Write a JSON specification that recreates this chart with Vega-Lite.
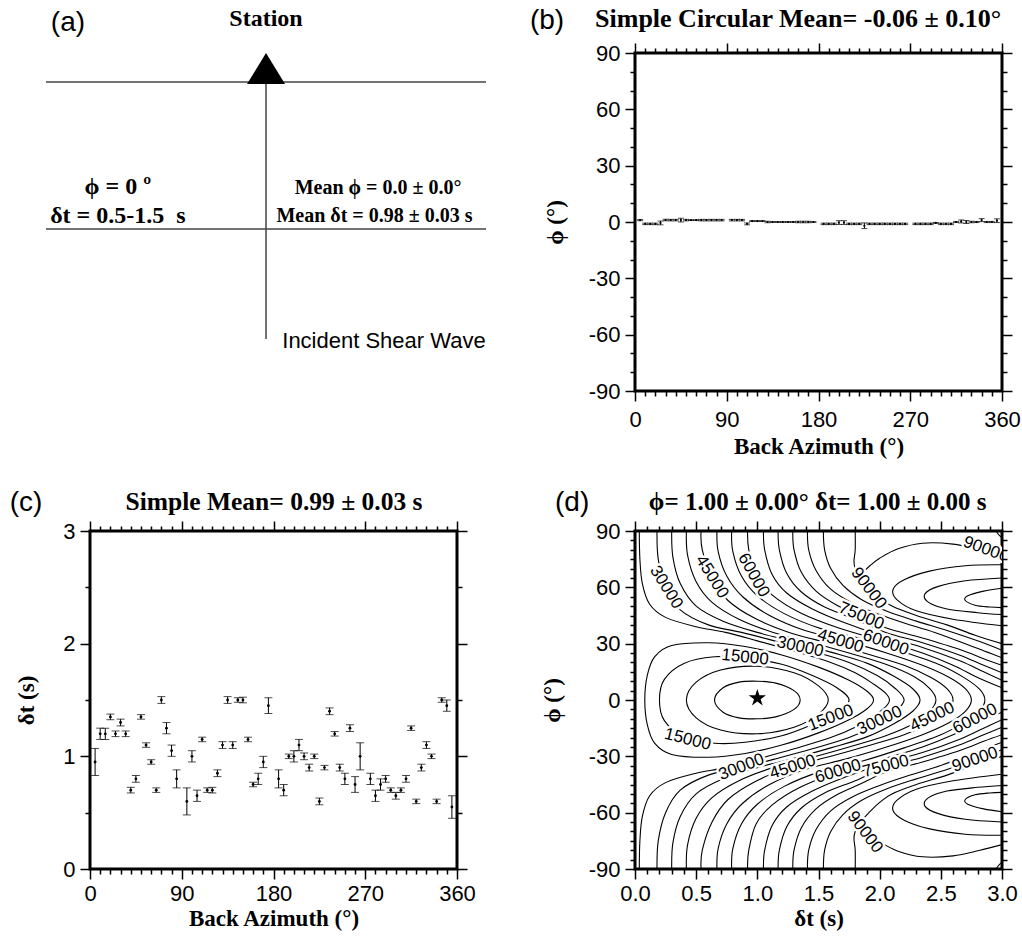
{
"$schema": "https://vega.github.io/schema/vega-lite/v6.json",
"background": "white",
"padding": {"left": 8, "top": 4, "right": 5, "bottom": 5},
"config": {
  "view": {"stroke": "black", "strokeWidth": 3},
  "axis": {"domain": false, "grid": false, "tickColor": "black", "tickWidth": 1.5, "labelFont": "Liberation Sans", "labelFontSize": 22, "labelColor": "black", "labelFlush": false, "labelOverlap": false, "titleFont": "Liberation Serif", "titleFontSize": 23, "titleFontWeight": "bold", "titleColor": "black"}
},
"datasets": {
  "alines": [
    {"x1": -12, "x2": 107.9, "y1": 91.4, "y2": 91.4},
    {"x1": -12, "x2": 107.9, "y1": 47.9, "y2": 47.9},
    {"x1": 47.96, "x2": 47.96, "y1": 91.4, "y2": 15.4}
  ],
  "atri": [{"x": 47.96, "y": 95.4}],
  "atext": [
    {"k": "big", "t": "Station", "x": 47.96, "y": 110.1},
    {"k": "big", "t": "ϕ = 0 º", "x": 7.6, "y": 60.4},
    {"k": "big", "t": "δt = 0.5-1.5 \u00a0s", "x": 7.6, "y": 51.8},
    {"k": "mean", "t": "Mean ϕ = 0.0 ± 0.0°", "x": 78.5, "y": 60},
    {"k": "mean", "t": "Mean δt = 0.98 ± 0.03 s", "x": 77.5, "y": 51.9},
    {"k": "sans", "t": "Incident Shear Wave", "x": 80.1, "y": 14.9},
    {"k": "panel", "t": "(a)", "x": -6, "y": 108.9}
  ],
  "b": [
    {"baz": 5, "phi": 1, "lo": 0.7, "hi": 1.3},
    {"baz": 10, "phi": -1, "lo": -1.4, "hi": -0.6},
    {"baz": 15, "phi": -1, "lo": -1.4, "hi": -0.6},
    {"baz": 20, "phi": -1, "lo": -1.4, "hi": -0.6},
    {"baz": 25, "phi": -0.5, "lo": -1.5, "hi": 0.5},
    {"baz": 30, "phi": 1, "lo": 0.6, "hi": 1.4},
    {"baz": 35, "phi": 1, "lo": 0.6, "hi": 1.4},
    {"baz": 40, "phi": 1, "lo": 0.6, "hi": 1.4},
    {"baz": 45, "phi": 1, "lo": 0, "hi": 2},
    {"baz": 50, "phi": 1, "lo": 0.6, "hi": 1.4},
    {"baz": 55, "phi": 1, "lo": 0.8, "hi": 1.2},
    {"baz": 60, "phi": 1, "lo": 0.8, "hi": 1.2},
    {"baz": 65, "phi": 1, "lo": 0.6, "hi": 1.4},
    {"baz": 70, "phi": 1, "lo": 0.6, "hi": 1.4},
    {"baz": 75, "phi": 1, "lo": 0.6, "hi": 1.4},
    {"baz": 80, "phi": 1, "lo": 0.6, "hi": 1.4},
    {"baz": 85, "phi": 1, "lo": 0.6, "hi": 1.4},
    {"baz": 95, "phi": 1, "lo": 0.6, "hi": 1.4},
    {"baz": 100, "phi": 1, "lo": 0.6, "hi": 1.4},
    {"baz": 105, "phi": 1, "lo": 0.6, "hi": 1.4},
    {"baz": 110, "phi": -1, "lo": -1.5, "hi": -0.5},
    {"baz": 115, "phi": 0.5, "lo": 0.3, "hi": 0.7},
    {"baz": 120, "phi": 0.5, "lo": 0.3, "hi": 0.7},
    {"baz": 125, "phi": 0.5, "lo": 0.3, "hi": 0.7},
    {"baz": 130, "phi": 0, "lo": -0.4, "hi": 0.4},
    {"baz": 135, "phi": 0, "lo": -0.2, "hi": 0.2},
    {"baz": 140, "phi": 0, "lo": -0.2, "hi": 0.2},
    {"baz": 145, "phi": 0, "lo": -0.2, "hi": 0.2},
    {"baz": 150, "phi": 0, "lo": -0.2, "hi": 0.2},
    {"baz": 155, "phi": 0, "lo": -0.2, "hi": 0.2},
    {"baz": 160, "phi": 0, "lo": -0.4, "hi": 0.4},
    {"baz": 165, "phi": 0, "lo": -0.4, "hi": 0.4},
    {"baz": 170, "phi": 0, "lo": -0.4, "hi": 0.4},
    {"baz": 175, "phi": 0, "lo": -0.2, "hi": 0.2},
    {"baz": 185, "phi": -1, "lo": -1.4, "hi": -0.6},
    {"baz": 190, "phi": -1, "lo": -1.4, "hi": -0.6},
    {"baz": 195, "phi": -1, "lo": -1.4, "hi": -0.6},
    {"baz": 200, "phi": -0.3, "lo": -1.3, "hi": 0.7},
    {"baz": 205, "phi": -0.3, "lo": -1.3, "hi": 0.7},
    {"baz": 210, "phi": -1, "lo": -1.4, "hi": -0.6},
    {"baz": 215, "phi": -1, "lo": -1.4, "hi": -0.6},
    {"baz": 220, "phi": -1, "lo": -1.4, "hi": -0.6},
    {"baz": 225, "phi": -2, "lo": -3.5, "hi": -0.5},
    {"baz": 230, "phi": -1, "lo": -1.4, "hi": -0.6},
    {"baz": 235, "phi": -1, "lo": -1.4, "hi": -0.6},
    {"baz": 240, "phi": -1, "lo": -1.4, "hi": -0.6},
    {"baz": 245, "phi": -1, "lo": -1.4, "hi": -0.6},
    {"baz": 250, "phi": -1, "lo": -1.4, "hi": -0.6},
    {"baz": 255, "phi": -1, "lo": -1.4, "hi": -0.6},
    {"baz": 260, "phi": -1, "lo": -1.4, "hi": -0.6},
    {"baz": 265, "phi": -1, "lo": -1.4, "hi": -0.6},
    {"baz": 275, "phi": -1, "lo": -1.4, "hi": -0.6},
    {"baz": 280, "phi": -1, "lo": -1.4, "hi": -0.6},
    {"baz": 285, "phi": -1, "lo": -1.4, "hi": -0.6},
    {"baz": 290, "phi": -1, "lo": -1.4, "hi": -0.6},
    {"baz": 295, "phi": -0.5, "lo": -0.7, "hi": -0.3},
    {"baz": 300, "phi": -1, "lo": -1.4, "hi": -0.6},
    {"baz": 305, "phi": -1, "lo": -1.4, "hi": -0.6},
    {"baz": 310, "phi": -1, "lo": -1.4, "hi": -0.6},
    {"baz": 315, "phi": 0, "lo": -0.3, "hi": 0.3},
    {"baz": 320, "phi": 0.3, "lo": -0.5, "hi": 1.1},
    {"baz": 325, "phi": 0, "lo": -0.8, "hi": 0.8},
    {"baz": 330, "phi": 0, "lo": -0.4, "hi": 0.4},
    {"baz": 335, "phi": 0, "lo": -0.3, "hi": 0.3},
    {"baz": 340, "phi": 1, "lo": 0.2, "hi": 1.8},
    {"baz": 345, "phi": 0, "lo": -0.3, "hi": 0.3},
    {"baz": 350, "phi": 0, "lo": -0.3, "hi": 0.3},
    {"baz": 355, "phi": 0.7, "lo": -0.3, "hi": 1.7}
  ],
  "blab": [
    {"k": "p", "t": "(b)", "x": -86.3, "y": 107},
    {"k": "t", "t": "Simple Circular Mean= -0.06 ± 0.10°", "x": 160, "y": 108}
  ],
  "c": [
    {"baz": 5, "dt": 0.95, "lo": 0.83, "hi": 1.07},
    {"baz": 10, "dt": 1.2, "lo": 1.15, "hi": 1.25},
    {"baz": 15, "dt": 1.2, "lo": 1.15, "hi": 1.25},
    {"baz": 20, "dt": 1.35, "lo": 1.325, "hi": 1.375},
    {"baz": 25, "dt": 1.2, "lo": 1.175, "hi": 1.225},
    {"baz": 30, "dt": 1.3, "lo": 1.27, "hi": 1.33},
    {"baz": 35, "dt": 1.2, "lo": 1.175, "hi": 1.225},
    {"baz": 40, "dt": 0.7, "lo": 0.675, "hi": 0.725},
    {"baz": 45, "dt": 0.8, "lo": 0.77, "hi": 0.83},
    {"baz": 50, "dt": 1.35, "lo": 1.33, "hi": 1.37},
    {"baz": 55, "dt": 1.1, "lo": 1.08, "hi": 1.12},
    {"baz": 60, "dt": 0.95, "lo": 0.93, "hi": 0.97},
    {"baz": 65, "dt": 0.7, "lo": 0.68, "hi": 0.72},
    {"baz": 70, "dt": 1.5, "lo": 1.47, "hi": 1.53},
    {"baz": 75, "dt": 1.25, "lo": 1.2, "hi": 1.3},
    {"baz": 80, "dt": 1.05, "lo": 1.0, "hi": 1.1},
    {"baz": 85, "dt": 0.8, "lo": 0.72, "hi": 0.88},
    {"baz": 95, "dt": 0.6, "lo": 0.48, "hi": 0.72},
    {"baz": 100, "dt": 1.0, "lo": 0.95, "hi": 1.05},
    {"baz": 105, "dt": 0.65, "lo": 0.6, "hi": 0.7},
    {"baz": 110, "dt": 1.15, "lo": 1.13, "hi": 1.17},
    {"baz": 115, "dt": 0.7, "lo": 0.68, "hi": 0.72},
    {"baz": 120, "dt": 0.7, "lo": 0.675, "hi": 0.725},
    {"baz": 125, "dt": 0.85, "lo": 0.82, "hi": 0.88},
    {"baz": 130, "dt": 1.1, "lo": 1.07, "hi": 1.13},
    {"baz": 135, "dt": 1.5, "lo": 1.47, "hi": 1.53},
    {"baz": 140, "dt": 1.1, "lo": 1.07, "hi": 1.13},
    {"baz": 145, "dt": 1.5, "lo": 1.48, "hi": 1.52},
    {"baz": 150, "dt": 1.5, "lo": 1.475, "hi": 1.525},
    {"baz": 155, "dt": 1.15, "lo": 1.13, "hi": 1.17},
    {"baz": 160, "dt": 0.75, "lo": 0.73, "hi": 0.77},
    {"baz": 165, "dt": 0.8, "lo": 0.75, "hi": 0.85},
    {"baz": 170, "dt": 0.95, "lo": 0.9, "hi": 1.0},
    {"baz": 175, "dt": 1.45, "lo": 1.38, "hi": 1.52},
    {"baz": 185, "dt": 0.8, "lo": 0.72, "hi": 0.88},
    {"baz": 190, "dt": 0.7, "lo": 0.65, "hi": 0.75},
    {"baz": 195, "dt": 1.0, "lo": 0.98, "hi": 1.02},
    {"baz": 200, "dt": 1.0, "lo": 0.95, "hi": 1.05},
    {"baz": 205, "dt": 1.1, "lo": 1.05, "hi": 1.15},
    {"baz": 210, "dt": 1.0, "lo": 0.97, "hi": 1.03},
    {"baz": 215, "dt": 0.9, "lo": 0.87, "hi": 0.93},
    {"baz": 220, "dt": 1.0, "lo": 0.98, "hi": 1.02},
    {"baz": 225, "dt": 0.6, "lo": 0.57, "hi": 0.63},
    {"baz": 230, "dt": 0.9, "lo": 0.88, "hi": 0.92},
    {"baz": 235, "dt": 1.4, "lo": 1.37, "hi": 1.43},
    {"baz": 240, "dt": 1.2, "lo": 1.18, "hi": 1.22},
    {"baz": 245, "dt": 0.9, "lo": 0.87, "hi": 0.93},
    {"baz": 250, "dt": 0.8, "lo": 0.75, "hi": 0.85},
    {"baz": 255, "dt": 1.25, "lo": 1.22, "hi": 1.28},
    {"baz": 260, "dt": 0.75, "lo": 0.68, "hi": 0.82},
    {"baz": 265, "dt": 1.0, "lo": 0.88, "hi": 1.12},
    {"baz": 275, "dt": 0.8, "lo": 0.75, "hi": 0.85},
    {"baz": 280, "dt": 0.65, "lo": 0.6, "hi": 0.7},
    {"baz": 285, "dt": 0.75, "lo": 0.7, "hi": 0.8},
    {"baz": 290, "dt": 0.8, "lo": 0.77, "hi": 0.83},
    {"baz": 295, "dt": 0.7, "lo": 0.68, "hi": 0.72},
    {"baz": 300, "dt": 0.65, "lo": 0.62, "hi": 0.68},
    {"baz": 305, "dt": 0.7, "lo": 0.68, "hi": 0.72},
    {"baz": 310, "dt": 0.8, "lo": 0.77, "hi": 0.83},
    {"baz": 315, "dt": 1.25, "lo": 1.23, "hi": 1.27},
    {"baz": 320, "dt": 0.6, "lo": 0.58, "hi": 0.62},
    {"baz": 325, "dt": 0.9, "lo": 0.87, "hi": 0.93},
    {"baz": 330, "dt": 1.1, "lo": 1.07, "hi": 1.13},
    {"baz": 335, "dt": 1.0, "lo": 0.98, "hi": 1.02},
    {"baz": 340, "dt": 0.6, "lo": 0.58, "hi": 0.62},
    {"baz": 345, "dt": 1.5, "lo": 1.48, "hi": 1.52},
    {"baz": 350, "dt": 1.45, "lo": 1.4, "hi": 1.5},
    {"baz": 355, "dt": 0.55, "lo": 0.45, "hi": 0.65}
  ],
  "clab": [
    {"k": "p", "t": "(c)", "x": -62.8, "y": 3.25},
    {"k": "t", "t": "Simple Mean= 0.99 ± 0.03 s", "x": 180.5, "y": 3.256}
  ],
  "dloops": [
    {"c":"L20","o":1,"dt":0.08,"phi":0},{"c":"L20","o":2,"dt":0.1,"phi":13},{"c":"L20","o":3,"dt":0.16,"phi":23},{"c":"L20","o":4,"dt":0.3,"phi":29},{"c":"L20","o":5,"dt":0.6,"phi":30.5},{"c":"L20","o":6,"dt":0.9,"phi":28.5},{"c":"L20","o":7,"dt":1.2,"phi":24},{"c":"L20","o":8,"dt":1.5,"phi":17.5},{"c":"L20","o":9,"dt":1.75,"phi":10.5},{"c":"L20","o":10,"dt":1.9,"phi":4.5},{"c":"L20","o":11,"dt":1.95,"phi":0},{"c":"L20","o":12,"dt":1.9,"phi":-4.5},{"c":"L20","o":13,"dt":1.75,"phi":-10.5},{"c":"L20","o":14,"dt":1.5,"phi":-17.5},{"c":"L20","o":15,"dt":1.2,"phi":-24},{"c":"L20","o":16,"dt":0.9,"phi":-28.5},{"c":"L20","o":17,"dt":0.6,"phi":-30.5},{"c":"L20","o":18,"dt":0.3,"phi":-29},{"c":"L20","o":19,"dt":0.16,"phi":-23},{"c":"L20","o":20,"dt":0.1,"phi":-13},
    {"c":"L15","o":1,"dt":0.2,"phi":0},{"c":"L15","o":2,"dt":0.24,"phi":11},{"c":"L15","o":3,"dt":0.4,"phi":19.5},{"c":"L15","o":4,"dt":0.65,"phi":23},{"c":"L15","o":5,"dt":0.9,"phi":22.5},{"c":"L15","o":6,"dt":1.2,"phi":19},{"c":"L15","o":7,"dt":1.45,"phi":13},{"c":"L15","o":8,"dt":1.65,"phi":6.5},{"c":"L15","o":9,"dt":1.75,"phi":0},{"c":"L15","o":10,"dt":1.65,"phi":-6.5},{"c":"L15","o":11,"dt":1.45,"phi":-13},{"c":"L15","o":12,"dt":1.2,"phi":-19},{"c":"L15","o":13,"dt":0.9,"phi":-22.5},{"c":"L15","o":14,"dt":0.65,"phi":-23},{"c":"L15","o":15,"dt":0.4,"phi":-19.5},{"c":"L15","o":16,"dt":0.24,"phi":-11},
    {"c":"L10","o":1,"dt":0.42,"phi":0},{"c":"L10","o":2,"dt":0.5,"phi":9.5},{"c":"L10","o":3,"dt":0.7,"phi":16},{"c":"L10","o":4,"dt":1.0,"phi":18},{"c":"L10","o":5,"dt":1.3,"phi":14.5},{"c":"L10","o":6,"dt":1.5,"phi":7.5},{"c":"L10","o":7,"dt":1.58,"phi":0},{"c":"L10","o":8,"dt":1.5,"phi":-7.5},{"c":"L10","o":9,"dt":1.3,"phi":-14.5},{"c":"L10","o":10,"dt":1.0,"phi":-18},{"c":"L10","o":11,"dt":0.7,"phi":-16},{"c":"L10","o":12,"dt":0.5,"phi":-9.5},
    {"c":"L5","o":1,"dt":0.65,"phi":0},{"c":"L5","o":2,"dt":0.72,"phi":6.5},{"c":"L5","o":3,"dt":0.85,"phi":9.5},{"c":"L5","o":4,"dt":1.0,"phi":10},{"c":"L5","o":5,"dt":1.15,"phi":9},{"c":"L5","o":6,"dt":1.3,"phi":5},{"c":"L5","o":7,"dt":1.35,"phi":0},{"c":"L5","o":8,"dt":1.3,"phi":-5},{"c":"L5","o":9,"dt":1.15,"phi":-9},{"c":"L5","o":10,"dt":1.0,"phi":-10},{"c":"L5","o":11,"dt":0.85,"phi":-9.5},{"c":"L5","o":12,"dt":0.72,"phi":-6.5}
  ],
  "dopen": [
    {"c":"L25","o":1,"dt":0.035,"phi":90},{"c":"L25","o":2,"dt":0.04,"phi":75},{"c":"L25","o":3,"dt":0.06,"phi":62},{"c":"L25","o":4,"dt":0.12,"phi":51},{"c":"L25","o":5,"dt":0.25,"phi":44},{"c":"L25","o":6,"dt":0.5,"phi":39},{"c":"L25","o":7,"dt":0.74,"phi":36},{"c":"L25","o":8,"dt":1.0,"phi":31.5},{"c":"L25","o":9,"dt":1.3,"phi":26},{"c":"L25","o":10,"dt":1.6,"phi":20},{"c":"L25","o":11,"dt":1.8,"phi":14.5},{"c":"L25","o":12,"dt":1.95,"phi":8.5},{"c":"L25","o":13,"dt":2.05,"phi":3.5},{"c":"L25","o":14,"dt":2.08,"phi":0},{"c":"L25","o":15,"dt":2.05,"phi":-3.5},{"c":"L25","o":16,"dt":1.95,"phi":-8.5},{"c":"L25","o":17,"dt":1.8,"phi":-14.5},{"c":"L25","o":18,"dt":1.6,"phi":-20},{"c":"L25","o":19,"dt":1.3,"phi":-26},{"c":"L25","o":20,"dt":1.0,"phi":-31.5},{"c":"L25","o":21,"dt":0.74,"phi":-36},{"c":"L25","o":22,"dt":0.5,"phi":-39},{"c":"L25","o":23,"dt":0.25,"phi":-44},{"c":"L25","o":24,"dt":0.12,"phi":-51},{"c":"L25","o":25,"dt":0.06,"phi":-62},{"c":"L25","o":26,"dt":0.04,"phi":-75},{"c":"L25","o":27,"dt":0.035,"phi":-90},
    {"c":"L30","o":1,"dt":0.18,"phi":90},{"c":"L30","o":2,"dt":0.19,"phi":75},{"c":"L30","o":3,"dt":0.25,"phi":60},{"c":"L30","o":4,"dt":0.37,"phi":48},{"c":"L30","o":5,"dt":0.6,"phi":40},{"c":"L30","o":6,"dt":0.87,"phi":36},{"c":"L30","o":7,"dt":1.14,"phi":31.5},{"c":"L30","o":8,"dt":1.45,"phi":26},{"c":"L30","o":9,"dt":1.75,"phi":20},{"c":"L30","o":10,"dt":1.98,"phi":13},{"c":"L30","o":11,"dt":2.13,"phi":6},{"c":"L30","o":12,"dt":2.2,"phi":0},{"c":"L30","o":13,"dt":2.13,"phi":-6},{"c":"L30","o":14,"dt":1.98,"phi":-13},{"c":"L30","o":15,"dt":1.75,"phi":-20},{"c":"L30","o":16,"dt":1.45,"phi":-26},{"c":"L30","o":17,"dt":1.14,"phi":-31.5},{"c":"L30","o":18,"dt":0.87,"phi":-36},{"c":"L30","o":19,"dt":0.6,"phi":-40},{"c":"L30","o":20,"dt":0.37,"phi":-48},{"c":"L30","o":21,"dt":0.25,"phi":-60},{"c":"L30","o":22,"dt":0.19,"phi":-75},{"c":"L30","o":23,"dt":0.18,"phi":-90},
    {"c":"L35","o":1,"dt":0.3,"phi":90},{"c":"L35","o":2,"dt":0.31,"phi":76},{"c":"L35","o":3,"dt":0.37,"phi":62},{"c":"L35","o":4,"dt":0.5,"phi":50},{"c":"L35","o":5,"dt":0.72,"phi":42},{"c":"L35","o":6,"dt":1.0,"phi":36},{"c":"L35","o":7,"dt":1.3,"phi":31},{"c":"L35","o":8,"dt":1.6,"phi":25.5},{"c":"L35","o":9,"dt":1.9,"phi":19.5},{"c":"L35","o":10,"dt":2.12,"phi":12.5},{"c":"L35","o":11,"dt":2.27,"phi":6},{"c":"L35","o":12,"dt":2.33,"phi":0},{"c":"L35","o":13,"dt":2.27,"phi":-6},{"c":"L35","o":14,"dt":2.12,"phi":-12.5},{"c":"L35","o":15,"dt":1.9,"phi":-19.5},{"c":"L35","o":16,"dt":1.6,"phi":-25.5},{"c":"L35","o":17,"dt":1.3,"phi":-31},{"c":"L35","o":18,"dt":1.0,"phi":-36},{"c":"L35","o":19,"dt":0.72,"phi":-42},{"c":"L35","o":20,"dt":0.5,"phi":-50},{"c":"L35","o":21,"dt":0.37,"phi":-62},{"c":"L35","o":22,"dt":0.31,"phi":-76},{"c":"L35","o":23,"dt":0.3,"phi":-90},
    {"c":"L40","o":1,"dt":0.42,"phi":90},{"c":"L40","o":2,"dt":0.43,"phi":77},{"c":"L40","o":3,"dt":0.5,"phi":63},{"c":"L40","o":4,"dt":0.63,"phi":52},{"c":"L40","o":5,"dt":0.85,"phi":43},{"c":"L40","o":6,"dt":1.13,"phi":36},{"c":"L40","o":7,"dt":1.45,"phi":30.5},{"c":"L40","o":8,"dt":1.75,"phi":25},{"c":"L40","o":9,"dt":2.05,"phi":19},{"c":"L40","o":10,"dt":2.28,"phi":12.5},{"c":"L40","o":11,"dt":2.41,"phi":6},{"c":"L40","o":12,"dt":2.46,"phi":0},{"c":"L40","o":13,"dt":2.41,"phi":-6},{"c":"L40","o":14,"dt":2.28,"phi":-12.5},{"c":"L40","o":15,"dt":2.05,"phi":-19},{"c":"L40","o":16,"dt":1.75,"phi":-25},{"c":"L40","o":17,"dt":1.45,"phi":-30.5},{"c":"L40","o":18,"dt":1.13,"phi":-36},{"c":"L40","o":19,"dt":0.85,"phi":-43},{"c":"L40","o":20,"dt":0.63,"phi":-52},{"c":"L40","o":21,"dt":0.5,"phi":-63},{"c":"L40","o":22,"dt":0.43,"phi":-77},{"c":"L40","o":23,"dt":0.42,"phi":-90},
    {"c":"L45","o":1,"dt":0.54,"phi":90},{"c":"L45","o":2,"dt":0.55,"phi":80},{"c":"L45","o":3,"dt":0.63,"phi":65},{"c":"L45","o":4,"dt":0.76,"phi":53},{"c":"L45","o":5,"dt":0.98,"phi":43.5},{"c":"L45","o":6,"dt":1.26,"phi":36},{"c":"L45","o":7,"dt":1.6,"phi":30},{"c":"L45","o":8,"dt":1.9,"phi":24.5},{"c":"L45","o":9,"dt":2.2,"phi":18.5},{"c":"L45","o":10,"dt":2.42,"phi":12},{"c":"L45","o":11,"dt":2.55,"phi":6},{"c":"L45","o":12,"dt":2.6,"phi":0},{"c":"L45","o":13,"dt":2.55,"phi":-6},{"c":"L45","o":14,"dt":2.42,"phi":-12},{"c":"L45","o":15,"dt":2.2,"phi":-18.5},{"c":"L45","o":16,"dt":1.9,"phi":-24.5},{"c":"L45","o":17,"dt":1.6,"phi":-30},{"c":"L45","o":18,"dt":1.26,"phi":-36},{"c":"L45","o":19,"dt":0.98,"phi":-43.5},{"c":"L45","o":20,"dt":0.76,"phi":-53},{"c":"L45","o":21,"dt":0.63,"phi":-65},{"c":"L45","o":22,"dt":0.55,"phi":-80},{"c":"L45","o":23,"dt":0.54,"phi":-90},
    {"c":"L50","o":1,"dt":0.67,"phi":90},{"c":"L50","o":2,"dt":0.68,"phi":79},{"c":"L50","o":3,"dt":0.75,"phi":66},{"c":"L50","o":4,"dt":0.88,"phi":55},{"c":"L50","o":5,"dt":1.1,"phi":45},{"c":"L50","o":6,"dt":1.39,"phi":37},{"c":"L50","o":7,"dt":1.72,"phi":31.5},{"c":"L50","o":8,"dt":2.05,"phi":25.2},{"c":"L50","o":9,"dt":2.35,"phi":18.5},{"c":"L50","o":10,"dt":2.57,"phi":12},{"c":"L50","o":11,"dt":2.7,"phi":6},{"c":"L50","o":12,"dt":2.75,"phi":0},{"c":"L50","o":13,"dt":2.7,"phi":-6},{"c":"L50","o":14,"dt":2.57,"phi":-12},{"c":"L50","o":15,"dt":2.35,"phi":-18.5},{"c":"L50","o":16,"dt":2.05,"phi":-25.2},{"c":"L50","o":17,"dt":1.72,"phi":-31.5},{"c":"L50","o":18,"dt":1.39,"phi":-37},{"c":"L50","o":19,"dt":1.1,"phi":-45},{"c":"L50","o":20,"dt":0.88,"phi":-55},{"c":"L50","o":21,"dt":0.75,"phi":-66},{"c":"L50","o":22,"dt":0.68,"phi":-79},{"c":"L50","o":23,"dt":0.67,"phi":-90},
    {"c":"L55","o":1,"dt":0.79,"phi":90},{"c":"L55","o":2,"dt":0.8,"phi":79},{"c":"L55","o":3,"dt":0.87,"phi":66},{"c":"L55","o":4,"dt":1.0,"phi":55.5},{"c":"L55","o":5,"dt":1.22,"phi":46},{"c":"L55","o":6,"dt":1.52,"phi":38},{"c":"L55","o":7,"dt":1.86,"phi":32.5},{"c":"L55","o":8,"dt":2.2,"phi":25.5},{"c":"L55","o":9,"dt":2.5,"phi":18.5},{"c":"L55","o":10,"dt":2.7,"phi":11.5},{"c":"L55","o":11,"dt":2.82,"phi":5.5},{"c":"L55","o":12,"dt":2.86,"phi":0},{"c":"L55","o":13,"dt":2.82,"phi":-5.5},{"c":"L55","o":14,"dt":2.7,"phi":-11.5},{"c":"L55","o":15,"dt":2.5,"phi":-18.5},{"c":"L55","o":16,"dt":2.2,"phi":-25.5},{"c":"L55","o":17,"dt":1.86,"phi":-32.5},{"c":"L55","o":18,"dt":1.52,"phi":-38},{"c":"L55","o":19,"dt":1.22,"phi":-46},{"c":"L55","o":20,"dt":1.0,"phi":-55.5},{"c":"L55","o":21,"dt":0.87,"phi":-66},{"c":"L55","o":22,"dt":0.8,"phi":-79},{"c":"L55","o":23,"dt":0.79,"phi":-90},
    {"c":"L60","o":1,"dt":0.92,"phi":90},{"c":"L60","o":2,"dt":0.93,"phi":80},{"c":"L60","o":3,"dt":0.99,"phi":66},{"c":"L60","o":4,"dt":1.12,"phi":56},{"c":"L60","o":5,"dt":1.35,"phi":46.5},{"c":"L60","o":6,"dt":1.66,"phi":38.5},{"c":"L60","o":7,"dt":2.05,"phi":31},{"c":"L60","o":8,"dt":2.35,"phi":25},{"c":"L60","o":9,"dt":2.6,"phi":18.5},{"c":"L60","o":10,"dt":2.8,"phi":12},{"c":"L60","o":11,"dt":3.0,"phi":6.5},
    {"c":"L60m","o":1,"dt":0.92,"phi":-90},{"c":"L60m","o":2,"dt":0.93,"phi":-80},{"c":"L60m","o":3,"dt":0.99,"phi":-66},{"c":"L60m","o":4,"dt":1.12,"phi":-56},{"c":"L60m","o":5,"dt":1.35,"phi":-46.5},{"c":"L60m","o":6,"dt":1.66,"phi":-38.5},{"c":"L60m","o":7,"dt":2.05,"phi":-31},{"c":"L60m","o":8,"dt":2.35,"phi":-25},{"c":"L60m","o":9,"dt":2.6,"phi":-18.5},{"c":"L60m","o":10,"dt":2.8,"phi":-12},{"c":"L60m","o":11,"dt":3.0,"phi":-6.5},
    {"c":"L65","o":1,"dt":1.05,"phi":90},{"c":"L65","o":2,"dt":1.06,"phi":80},{"c":"L65","o":3,"dt":1.12,"phi":67},{"c":"L65","o":4,"dt":1.24,"phi":57},{"c":"L65","o":5,"dt":1.45,"phi":48.5},{"c":"L65","o":6,"dt":1.72,"phi":41},{"c":"L65","o":7,"dt":2.05,"phi":33.5},{"c":"L65","o":8,"dt":2.35,"phi":28},{"c":"L65","o":9,"dt":2.65,"phi":21},{"c":"L65","o":10,"dt":2.85,"phi":15},{"c":"L65","o":11,"dt":3.0,"phi":10.5},
    {"c":"L65m","o":1,"dt":1.05,"phi":-90},{"c":"L65m","o":2,"dt":1.06,"phi":-80},{"c":"L65m","o":3,"dt":1.12,"phi":-67},{"c":"L65m","o":4,"dt":1.24,"phi":-57},{"c":"L65m","o":5,"dt":1.45,"phi":-48.5},{"c":"L65m","o":6,"dt":1.72,"phi":-41},{"c":"L65m","o":7,"dt":2.05,"phi":-33.5},{"c":"L65m","o":8,"dt":2.35,"phi":-28},{"c":"L65m","o":9,"dt":2.65,"phi":-21},{"c":"L65m","o":10,"dt":2.85,"phi":-15},{"c":"L65m","o":11,"dt":3.0,"phi":-10.5},
    {"c":"L70","o":1,"dt":1.17,"phi":90},{"c":"L70","o":2,"dt":1.18,"phi":80},{"c":"L70","o":3,"dt":1.24,"phi":67.5},{"c":"L70","o":4,"dt":1.36,"phi":57.5},{"c":"L70","o":5,"dt":1.55,"phi":49.5},{"c":"L70","o":6,"dt":1.8,"phi":43},{"c":"L70","o":7,"dt":2.05,"phi":36},{"c":"L70","o":8,"dt":2.35,"phi":30.5},{"c":"L70","o":9,"dt":2.65,"phi":24},{"c":"L70","o":10,"dt":2.85,"phi":18.5},{"c":"L70","o":11,"dt":3.0,"phi":14.5},
    {"c":"L70m","o":1,"dt":1.17,"phi":-90},{"c":"L70m","o":2,"dt":1.18,"phi":-80},{"c":"L70m","o":3,"dt":1.24,"phi":-67.5},{"c":"L70m","o":4,"dt":1.36,"phi":-57.5},{"c":"L70m","o":5,"dt":1.55,"phi":-49.5},{"c":"L70m","o":6,"dt":1.8,"phi":-43},{"c":"L70m","o":7,"dt":2.05,"phi":-36},{"c":"L70m","o":8,"dt":2.35,"phi":-30.5},{"c":"L70m","o":9,"dt":2.65,"phi":-24},{"c":"L70m","o":10,"dt":2.85,"phi":-18.5},{"c":"L70m","o":11,"dt":3.0,"phi":-14.5},
    {"c":"L75","o":1,"dt":1.29,"phi":90},{"c":"L75","o":2,"dt":1.3,"phi":80},{"c":"L75","o":3,"dt":1.36,"phi":68},{"c":"L75","o":4,"dt":1.48,"phi":58},{"c":"L75","o":5,"dt":1.65,"phi":50.5},{"c":"L75","o":6,"dt":1.85,"phi":44.5},{"c":"L75","o":7,"dt":2.05,"phi":38.5},{"c":"L75","o":8,"dt":2.35,"phi":33},{"c":"L75","o":9,"dt":2.65,"phi":27},{"c":"L75","o":10,"dt":2.85,"phi":22},{"c":"L75","o":11,"dt":3.0,"phi":18.5},
    {"c":"L75m","o":1,"dt":1.29,"phi":-90},{"c":"L75m","o":2,"dt":1.3,"phi":-80},{"c":"L75m","o":3,"dt":1.36,"phi":-68},{"c":"L75m","o":4,"dt":1.48,"phi":-58},{"c":"L75m","o":5,"dt":1.65,"phi":-50.5},{"c":"L75m","o":6,"dt":1.85,"phi":-44.5},{"c":"L75m","o":7,"dt":2.05,"phi":-38.5},{"c":"L75m","o":8,"dt":2.35,"phi":-33},{"c":"L75m","o":9,"dt":2.65,"phi":-27},{"c":"L75m","o":10,"dt":2.85,"phi":-22},{"c":"L75m","o":11,"dt":3.0,"phi":-18.5},
    {"c":"L80","o":1,"dt":1.41,"phi":90},{"c":"L80","o":2,"dt":1.42,"phi":80},{"c":"L80","o":3,"dt":1.48,"phi":69},{"c":"L80","o":4,"dt":1.6,"phi":59},{"c":"L80","o":5,"dt":1.78,"phi":51.5},{"c":"L80","o":6,"dt":2.0,"phi":45.5},{"c":"L80","o":7,"dt":2.2,"phi":41},{"c":"L80","o":8,"dt":2.45,"phi":36},{"c":"L80","o":9,"dt":2.7,"phi":30},{"c":"L80","o":10,"dt":2.88,"phi":25.5},{"c":"L80","o":11,"dt":3.0,"phi":22.5},
    {"c":"L80m","o":1,"dt":1.41,"phi":-90},{"c":"L80m","o":2,"dt":1.42,"phi":-80},{"c":"L80m","o":3,"dt":1.48,"phi":-69},{"c":"L80m","o":4,"dt":1.6,"phi":-59},{"c":"L80m","o":5,"dt":1.78,"phi":-51.5},{"c":"L80m","o":6,"dt":2.0,"phi":-45.5},{"c":"L80m","o":7,"dt":2.2,"phi":-41},{"c":"L80m","o":8,"dt":2.45,"phi":-36},{"c":"L80m","o":9,"dt":2.7,"phi":-30},{"c":"L80m","o":10,"dt":2.88,"phi":-25.5},{"c":"L80m","o":11,"dt":3.0,"phi":-22.5},
    {"c":"L85","o":1,"dt":1.54,"phi":90},{"c":"L85","o":2,"dt":1.55,"phi":80},{"c":"L85","o":3,"dt":1.6,"phi":70},{"c":"L85","o":4,"dt":1.7,"phi":61},{"c":"L85","o":5,"dt":1.85,"phi":53.5},{"c":"L85","o":6,"dt":2.05,"phi":47.5},{"c":"L85","o":7,"dt":2.3,"phi":42},{"c":"L85","o":8,"dt":2.55,"phi":37},{"c":"L85","o":9,"dt":2.8,"phi":31.5},{"c":"L85","o":10,"dt":3.0,"phi":26.5},
    {"c":"L85m","o":1,"dt":1.54,"phi":-90},{"c":"L85m","o":2,"dt":1.55,"phi":-80},{"c":"L85m","o":3,"dt":1.6,"phi":-70},{"c":"L85m","o":4,"dt":1.7,"phi":-61},{"c":"L85m","o":5,"dt":1.85,"phi":-53.5},{"c":"L85m","o":6,"dt":2.05,"phi":-47.5},{"c":"L85m","o":7,"dt":2.3,"phi":-42},{"c":"L85m","o":8,"dt":2.55,"phi":-37},{"c":"L85m","o":9,"dt":2.8,"phi":-31.5},{"c":"L85m","o":10,"dt":3.0,"phi":-26.5},
    {"c":"Y","o":1,"dt":1.8,"phi":90},{"c":"Y","o":2,"dt":1.8,"phi":80},{"c":"Y","o":3,"dt":1.79,"phi":74},{"c":"Y","o":4,"dt":1.8,"phi":70},{"c":"Y","o":5,"dt":1.85,"phi":64.5},{"c":"Y","o":6,"dt":1.92,"phi":59.5},{"c":"Y","o":7,"dt":2.0,"phi":54.5},{"c":"Y","o":8,"dt":2.1,"phi":50},{"c":"Y","o":9,"dt":2.3,"phi":45},{"c":"Y","o":10,"dt":2.55,"phi":40},{"c":"Y","o":11,"dt":2.78,"phi":34.5},{"c":"Y","o":12,"dt":3.0,"phi":30},
    {"c":"Ym","o":1,"dt":1.8,"phi":-90},{"c":"Ym","o":2,"dt":1.8,"phi":-80},{"c":"Ym","o":3,"dt":1.79,"phi":-74},{"c":"Ym","o":4,"dt":1.8,"phi":-70},{"c":"Ym","o":5,"dt":1.85,"phi":-64.5},{"c":"Ym","o":6,"dt":1.92,"phi":-59.5},{"c":"Ym","o":7,"dt":2.0,"phi":-54.5},{"c":"Ym","o":8,"dt":2.1,"phi":-50},{"c":"Ym","o":9,"dt":2.3,"phi":-45},{"c":"Ym","o":10,"dt":2.55,"phi":-40},{"c":"Ym","o":11,"dt":2.78,"phi":-34.5},{"c":"Ym","o":12,"dt":3.0,"phi":-30},
    {"c":"H","o":1,"dt":3.0,"phi":77},{"c":"H","o":2,"dt":2.82,"phi":80},{"c":"H","o":3,"dt":2.6,"phi":83},{"c":"H","o":4,"dt":2.35,"phi":83.5},{"c":"H","o":5,"dt":2.15,"phi":80.5},{"c":"H","o":6,"dt":2.0,"phi":75.5},{"c":"H","o":7,"dt":1.92,"phi":71.5},{"c":"H","o":8,"dt":1.88,"phi":69},
    {"c":"Hm","o":1,"dt":3.0,"phi":-77},{"c":"Hm","o":2,"dt":2.82,"phi":-80},{"c":"Hm","o":3,"dt":2.6,"phi":-83},{"c":"Hm","o":4,"dt":2.35,"phi":-83.5},{"c":"Hm","o":5,"dt":2.15,"phi":-80.5},{"c":"Hm","o":6,"dt":2.0,"phi":-75.5},{"c":"Hm","o":7,"dt":1.92,"phi":-71.5},{"c":"Hm","o":8,"dt":1.88,"phi":-69},
    {"c":"U95","o":1,"dt":3.0,"phi":72},{"c":"U95","o":2,"dt":2.7,"phi":71.5},{"c":"U95","o":3,"dt":2.4,"phi":68.5},{"c":"U95","o":4,"dt":2.2,"phi":64},{"c":"U95","o":5,"dt":2.11,"phi":59},{"c":"U95","o":6,"dt":2.14,"phi":53.5},{"c":"U95","o":7,"dt":2.3,"phi":47.5},{"c":"U95","o":8,"dt":2.6,"phi":43},{"c":"U95","o":9,"dt":3.0,"phi":39.5},
    {"c":"U95m","o":1,"dt":3.0,"phi":-72},{"c":"U95m","o":2,"dt":2.7,"phi":-71.5},{"c":"U95m","o":3,"dt":2.4,"phi":-68.5},{"c":"U95m","o":4,"dt":2.2,"phi":-64},{"c":"U95m","o":5,"dt":2.11,"phi":-59},{"c":"U95m","o":6,"dt":2.14,"phi":-53.5},{"c":"U95m","o":7,"dt":2.3,"phi":-47.5},{"c":"U95m","o":8,"dt":2.6,"phi":-43},{"c":"U95m","o":9,"dt":3.0,"phi":-39.5},
    {"c":"U100","o":1,"dt":3.0,"phi":65},{"c":"U100","o":2,"dt":2.7,"phi":63.5},{"c":"U100","o":3,"dt":2.48,"phi":60.5},{"c":"U100","o":4,"dt":2.37,"phi":56.5},{"c":"U100","o":5,"dt":2.4,"phi":52},{"c":"U100","o":6,"dt":2.55,"phi":48.5},{"c":"U100","o":7,"dt":2.8,"phi":46.5},{"c":"U100","o":8,"dt":3.0,"phi":45.5},
    {"c":"U100m","o":1,"dt":3.0,"phi":-65},{"c":"U100m","o":2,"dt":2.7,"phi":-63.5},{"c":"U100m","o":3,"dt":2.48,"phi":-60.5},{"c":"U100m","o":4,"dt":2.37,"phi":-56.5},{"c":"U100m","o":5,"dt":2.4,"phi":-52},{"c":"U100m","o":6,"dt":2.55,"phi":-48.5},{"c":"U100m","o":7,"dt":2.8,"phi":-46.5},{"c":"U100m","o":8,"dt":3.0,"phi":-45.5},
    {"c":"U105","o":1,"dt":3.0,"phi":59.5},{"c":"U105","o":2,"dt":2.85,"phi":58},{"c":"U105","o":3,"dt":2.72,"phi":55.5},{"c":"U105","o":4,"dt":2.7,"phi":53},{"c":"U105","o":5,"dt":2.78,"phi":50.5},{"c":"U105","o":6,"dt":2.9,"phi":49.5},{"c":"U105","o":7,"dt":3.0,"phi":49.2},
    {"c":"U105m","o":1,"dt":3.0,"phi":-59.5},{"c":"U105m","o":2,"dt":2.85,"phi":-58},{"c":"U105m","o":3,"dt":2.72,"phi":-55.5},{"c":"U105m","o":4,"dt":2.7,"phi":-53},{"c":"U105m","o":5,"dt":2.78,"phi":-50.5},{"c":"U105m","o":6,"dt":2.9,"phi":-49.5},{"c":"U105m","o":7,"dt":3.0,"phi":-49.2},
    {"c":"K","o":1,"dt":2.95,"phi":90},{"c":"K","o":2,"dt":2.98,"phi":87.5},{"c":"K","o":3,"dt":3.0,"phi":86.5},
    {"c":"Km","o":1,"dt":2.95,"phi":-90},{"c":"Km","o":2,"dt":2.98,"phi":-87.5},{"c":"Km","o":3,"dt":3.0,"phi":-86.5}
  ],
  "dlab": [
    {"t":"30000","dt":0.255,"phi":60,"a":58},
    {"t":"45000","dt":0.63,"phi":65.6,"a":58},
    {"t":"60000","dt":0.97,"phi":66.5,"a":61},
    {"t":"15000","dt":0.9,"phi":22.8,"a":6},
    {"t":"30000","dt":1.35,"phi":28.3,"a":12},
    {"t":"45000","dt":1.68,"phi":31.4,"a":17},
    {"t":"60000","dt":2.05,"phi":30.5,"a":20},
    {"t":"75000","dt":1.85,"phi":44.7,"a":23},
    {"t":"90000","dt":1.91,"phi":59.5,"a":53},
    {"t":"90000","dt":2.87,"phi":80.2,"a":20},
    {"t":"15000","dt":0.43,"phi":-21,"a":14},
    {"t":"15000","dt":1.6,"phi":-9.5,"a":-21},
    {"t":"30000","dt":2.0,"phi":-10.9,"a":-25},
    {"t":"45000","dt":2.43,"phi":-9,"a":-26},
    {"t":"60000","dt":2.78,"phi":-10,"a":-27},
    {"t":"30000","dt":0.87,"phi":-35.7,"a":-21},
    {"t":"45000","dt":1.29,"phi":-35.7,"a":-18},
    {"t":"60000","dt":1.66,"phi":-38,"a":-17},
    {"t":"75000","dt":2.05,"phi":-35.3,"a":-15},
    {"t":"90000","dt":2.78,"phi":-31.7,"a":-19},
    {"t":"90000","dt":1.88,"phi":-70.4,"a":53}
  ],
  "dstar": [{"dt": 1.0, "phi": 1.0}],
  "dtxt": [
    {"k": "p", "t": "(d)", "x": -0.514, "y": 104.8},
    {"k": "t", "t": "ϕ= 1.00 ± 0.00° δt= 1.00 ± 0.00 s", "x": 1.493, "y": 105.3}
  ]
},
"concat": [
      {
        "width": 367, "height": 338,
        "view": {"stroke": null},
        "layer": [
          {"data": {"name": "alines"}, "mark": {"type": "rule", "color": "#444444", "strokeWidth": 1.5},
           "encoding": {
             "x": {"field": "x1", "type": "quantitative", "scale": {"domain": [0, 100], "nice": false, "zero": false}, "axis": null},
             "x2": {"field": "x2"},
             "y": {"field": "y1", "type": "quantitative", "scale": {"domain": [0, 100], "nice": false, "zero": false}, "axis": null},
             "y2": {"field": "y2"}}},
          {"data": {"name": "atri"}, "mark": {"type": "point", "shape": "M0,-0.816L1,0.816L-1,0.816Z", "size": 1444, "filled": true, "color": "black", "opacity": 1},
           "encoding": {"x": {"field": "x", "type": "quantitative", "axis": null}, "y": {"field": "y", "type": "quantitative", "axis": null}}},
          {"data": {"name": "atext"}, "transform": [{"filter": "datum.k === 'big'"}],
           "mark": {"type": "text", "font": "Liberation Serif", "fontWeight": "bold", "fontSize": 24, "align": "center", "baseline": "middle", "color": "black"},
           "encoding": {"x": {"field": "x", "type": "quantitative", "axis": null}, "y": {"field": "y", "type": "quantitative", "axis": null}, "text": {"field": "t"}}},
          {"data": {"name": "atext"}, "transform": [{"filter": "datum.k === 'mean'"}],
           "mark": {"type": "text", "font": "Liberation Serif", "fontWeight": "bold", "fontSize": 20, "align": "center", "baseline": "middle", "color": "black"},
           "encoding": {"x": {"field": "x", "type": "quantitative", "axis": null}, "y": {"field": "y", "type": "quantitative", "axis": null}, "text": {"field": "t"}}},
          {"data": {"name": "atext"}, "transform": [{"filter": "datum.k === 'sans'"}],
           "mark": {"type": "text", "font": "Liberation Sans", "fontSize": 22, "align": "center", "baseline": "middle", "color": "black"},
           "encoding": {"x": {"field": "x", "type": "quantitative", "axis": null}, "y": {"field": "y", "type": "quantitative", "axis": null}, "text": {"field": "t"}}},
          {"data": {"name": "atext"}, "transform": [{"filter": "datum.k === 'panel'"}],
           "mark": {"type": "text", "font": "Liberation Sans", "fontSize": 28, "align": "center", "baseline": "middle", "color": "black"},
           "encoding": {"x": {"field": "x", "type": "quantitative", "axis": null}, "y": {"field": "y", "type": "quantitative", "axis": null}, "text": {"field": "t"}}}
        ]
      },
      {
        "width": 367, "height": 338,
        "layer": [
          {"data": {"name": "b"}, "mark": {"type": "rule", "color": "black", "strokeWidth": 1},
           "encoding": {
             "x": {"field": "baz", "type": "quantitative", "scale": {"domain": [0, 360], "nice": false, "zero": false},
                   "axis": {"orient": "bottom", "values": [0,10,20,30,40,50,60,70,80,90,100,110,120,130,140,150,160,170,180,190,200,210,220,230,240,250,260,270,280,290,300,310,320,330,340,350,360], "labelExpr": "datum.value % 90 === 0 ? '' + datum.value : ''", "tickSize": {"condition": {"test": "datum.value % 90 === 0", "value": 10}, "value": 5}, "title": "Back Azimuth (°)", "labelPadding": 8, "titlePadding": 5}},
             "y": {"field": "lo", "type": "quantitative", "scale": {"domain": [-90, 90], "nice": false, "zero": false},
                   "axis": {"orient": "left", "values": [-90,-80,-70,-60,-50,-40,-30,-20,-10,0,10,20,30,40,50,60,70,80,90], "labelExpr": "datum.value % 30 === 0 ? '' + datum.value : ''", "tickSize": {"condition": {"test": "datum.value % 30 === 0", "value": 10}, "value": 5}, "title": "ϕ (°)", "labelPadding": 5, "titlePadding": 21}},
             "y2": {"field": "hi"}}},
          {"data": {"name": "b"}, "mark": {"type": "tick", "orient": "horizontal", "color": "black", "thickness": 1, "size": 6},
           "encoding": {"x": {"field": "baz", "type": "quantitative", "axis": null}, "y": {"field": "lo", "type": "quantitative", "axis": null}}},
          {"data": {"name": "b"}, "mark": {"type": "tick", "orient": "horizontal", "color": "black", "thickness": 1, "size": 6},
           "encoding": {"x": {"field": "baz", "type": "quantitative", "axis": null}, "y": {"field": "hi", "type": "quantitative", "axis": null}}},
          {"data": {"name": "b"}, "mark": {"type": "point", "filled": true, "color": "black", "size": 5, "opacity": 1},
           "encoding": {
             "x": {"field": "baz", "type": "quantitative", "axis": {"orient": "top", "values": [0,10,20,30,40,50,60,70,80,90,100,110,120,130,140,150,160,170,180,190,200,210,220,230,240,250,260,270,280,290,300,310,320,330,340,350,360], "labels": false, "title": null, "tickSize": {"condition": {"test": "datum.value % 90 === 0", "value": 10}, "value": 5}}},
             "y": {"field": "phi", "type": "quantitative", "axis": {"orient": "right", "values": [-90,-80,-70,-60,-50,-40,-30,-20,-10,0,10,20,30,40,50,60,70,80,90], "labels": false, "title": null, "tickSize": {"condition": {"test": "datum.value % 30 === 0", "value": 10}, "value": 5}}}}},
          {"data": {"name": "blab"}, "transform": [{"filter": "datum.k === 'p'"}],
           "mark": {"type": "text", "font": "Liberation Sans", "fontSize": 28, "align": "center", "baseline": "middle", "color": "black"},
           "encoding": {"x": {"field": "x", "type": "quantitative", "axis": null}, "y": {"field": "y", "type": "quantitative", "axis": null}, "text": {"field": "t"}}},
          {"data": {"name": "blab"}, "transform": [{"filter": "datum.k === 't'"}],
           "mark": {"type": "text", "font": "Liberation Serif", "fontWeight": "bold", "fontSize": 26, "align": "center", "baseline": "middle", "color": "black"},
           "encoding": {"x": {"field": "x", "type": "quantitative", "axis": null}, "y": {"field": "y", "type": "quantitative", "axis": null}, "text": {"field": "t"}}}
        ],
        "resolve": {"axis": {"x": "independent", "y": "independent"}}
      },
      {
        "width": 367, "height": 338,
        "layer": [
          {"data": {"name": "c"}, "mark": {"type": "rule", "color": "black", "strokeWidth": 1},
           "encoding": {
             "x": {"field": "baz", "type": "quantitative", "scale": {"domain": [0, 360], "nice": false, "zero": false},
                   "axis": {"orient": "bottom", "values": [0,10,20,30,40,50,60,70,80,90,100,110,120,130,140,150,160,170,180,190,200,210,220,230,240,250,260,270,280,290,300,310,320,330,340,350,360], "labelExpr": "datum.value % 90 === 0 ? '' + datum.value : ''", "tickSize": {"condition": {"test": "datum.value % 90 === 0", "value": 10}, "value": 5}, "title": "Back Azimuth (°)", "labelPadding": 4, "titlePadding": 3}},
             "y": {"field": "lo", "type": "quantitative", "scale": {"domain": [0, 3], "nice": false, "zero": false},
                   "axis": {"orient": "left", "values": [0,0.5,1,1.5,2,2.5,3], "labelExpr": "datum.value % 1 === 0 ? '' + datum.value : ''", "tickSize": {"condition": {"test": "datum.value % 1 === 0", "value": 10}, "value": 5}, "title": "δt (s)", "labelPadding": 5, "titlePadding": 24}},
             "y2": {"field": "hi"}}},
          {"data": {"name": "c"}, "mark": {"type": "tick", "orient": "horizontal", "color": "black", "thickness": 1, "size": 8},
           "encoding": {"x": {"field": "baz", "type": "quantitative", "axis": null}, "y": {"field": "lo", "type": "quantitative", "axis": null}}},
          {"data": {"name": "c"}, "mark": {"type": "tick", "orient": "horizontal", "color": "black", "thickness": 1, "size": 8},
           "encoding": {"x": {"field": "baz", "type": "quantitative", "axis": null}, "y": {"field": "hi", "type": "quantitative", "axis": null}}},
          {"data": {"name": "c"}, "mark": {"type": "point", "filled": true, "color": "black", "size": 8, "opacity": 1},
           "encoding": {
             "x": {"field": "baz", "type": "quantitative", "axis": {"orient": "top", "values": [0,10,20,30,40,50,60,70,80,90,100,110,120,130,140,150,160,170,180,190,200,210,220,230,240,250,260,270,280,290,300,310,320,330,340,350,360], "labels": false, "title": null, "tickSize": {"condition": {"test": "datum.value % 90 === 0", "value": 10}, "value": 5}}},
             "y": {"field": "dt", "type": "quantitative", "axis": {"orient": "right", "values": [0,0.5,1,1.5,2,2.5,3], "labels": false, "title": null, "tickSize": {"condition": {"test": "datum.value % 1 === 0", "value": 10}, "value": 5}}}}},
          {"data": {"name": "clab"}, "transform": [{"filter": "datum.k === 'p'"}],
           "mark": {"type": "text", "font": "Liberation Sans", "fontSize": 28, "align": "center", "baseline": "middle", "color": "black"},
           "encoding": {"x": {"field": "x", "type": "quantitative", "axis": null}, "y": {"field": "y", "type": "quantitative", "axis": null}, "text": {"field": "t"}}},
          {"data": {"name": "clab"}, "transform": [{"filter": "datum.k === 't'"}],
           "mark": {"type": "text", "font": "Liberation Serif", "fontWeight": "bold", "fontSize": 25.5, "align": "center", "baseline": "middle", "color": "black"},
           "encoding": {"x": {"field": "x", "type": "quantitative", "axis": null}, "y": {"field": "y", "type": "quantitative", "axis": null}, "text": {"field": "t"}}}
        ],
        "resolve": {"axis": {"x": "independent", "y": "independent"}}
      },
      {
        "width": 367, "height": 338,
        "layer": [
          {"data": {"name": "dopen"}, "mark": {"type": "line", "color": "black", "strokeWidth": 1.1, "interpolate": "cardinal", "clip": true},
           "encoding": {
             "x": {"field": "dt", "type": "quantitative", "scale": {"domain": [0, 3], "nice": false, "zero": false},
                   "axis": {"orient": "bottom", "values": [0,0.1,0.2,0.3,0.4,0.5,0.6,0.7,0.8,0.9,1,1.1,1.2,1.3,1.4,1.5,1.6,1.7,1.8,1.9,2,2.1,2.2,2.3,2.4,2.5,2.6,2.7,2.8,2.9,3], "labelExpr": "abs(datum.value * 2 - round(datum.value * 2)) < 0.001 ? format(datum.value, '.1f') : ''", "tickSize": {"condition": {"test": "abs(datum.value * 2 - round(datum.value * 2)) < 0.001", "value": 10}, "value": 5}, "title": "δt (s)", "labelPadding": 4, "titlePadding": 3}},
             "y": {"field": "phi", "type": "quantitative", "scale": {"domain": [-90, 90], "nice": false, "zero": false},
                   "axis": {"orient": "left", "values": [-90,-85,-80,-75,-70,-65,-60,-55,-50,-45,-40,-35,-30,-25,-20,-15,-10,-5,0,5,10,15,20,25,30,35,40,45,50,55,60,65,70,75,80,85,90], "labelExpr": "datum.value % 30 === 0 ? '' + datum.value : ''", "tickSize": {"condition": {"test": "datum.value % 30 === 0", "value": 10}, "value": 5}, "title": "ϕ (°)", "labelPadding": 5, "titlePadding": 24}},
             "detail": {"field": "c", "type": "nominal"},
             "order": {"field": "o", "type": "quantitative"}}},
          {"data": {"name": "dloops"}, "mark": {"type": "line", "color": "black", "strokeWidth": 1.1, "interpolate": "cardinal-closed", "clip": true},
           "encoding": {
             "x": {"field": "dt", "type": "quantitative", "axis": null},
             "y": {"field": "phi", "type": "quantitative", "axis": null},
             "detail": {"field": "c", "type": "nominal"},
             "order": {"field": "o", "type": "quantitative"}}},
          {"data": {"name": "dlab"}, "mark": {"type": "text", "font": "Liberation Sans", "fontSize": 17, "align": "center", "baseline": "middle", "color": "white", "stroke": "white", "strokeWidth": 5, "clip": true},
           "encoding": {"x": {"field": "dt", "type": "quantitative", "axis": null}, "y": {"field": "phi", "type": "quantitative", "axis": null}, "text": {"field": "t"}, "angle": {"field": "a", "type": "quantitative", "scale": null}}},
          {"data": {"name": "dlab"}, "mark": {"type": "text", "font": "Liberation Sans", "fontSize": 17, "align": "center", "baseline": "middle", "color": "black", "clip": true},
           "encoding": {"x": {"field": "dt", "type": "quantitative", "axis": null}, "y": {"field": "phi", "type": "quantitative", "axis": null}, "text": {"field": "t"}, "angle": {"field": "a", "type": "quantitative", "scale": null}}},
          {"data": {"name": "dstar"}, "mark": {"type": "point", "shape": "M0,-1L0.2245,-0.309L0.951,-0.309L0.363,0.118L0.588,0.809L0,0.382L-0.588,0.809L-0.363,0.118L-0.951,-0.309L-0.2245,-0.309Z", "size": 330, "filled": true, "color": "black", "opacity": 1},
           "encoding": {
             "x": {"field": "dt", "type": "quantitative", "axis": {"orient": "top", "values": [0,0.1,0.2,0.3,0.4,0.5,0.6,0.7,0.8,0.9,1,1.1,1.2,1.3,1.4,1.5,1.6,1.7,1.8,1.9,2,2.1,2.2,2.3,2.4,2.5,2.6,2.7,2.8,2.9,3], "labels": false, "title": null, "tickSize": {"condition": {"test": "abs(datum.value * 2 - round(datum.value * 2)) < 0.001", "value": 10}, "value": 5}}},
             "y": {"field": "phi", "type": "quantitative", "axis": {"orient": "right", "values": [-90,-85,-80,-75,-70,-65,-60,-55,-50,-45,-40,-35,-30,-25,-20,-15,-10,-5,0,5,10,15,20,25,30,35,40,45,50,55,60,65,70,75,80,85,90], "labels": false, "title": null, "tickSize": {"condition": {"test": "datum.value % 30 === 0", "value": 10}, "value": 5}}}}},
          {"data": {"name": "dtxt"}, "transform": [{"filter": "datum.k === 'p'"}],
           "mark": {"type": "text", "font": "Liberation Sans", "fontSize": 28, "align": "center", "baseline": "middle", "color": "black"},
           "encoding": {"x": {"field": "x", "type": "quantitative", "axis": null}, "y": {"field": "y", "type": "quantitative", "axis": null}, "text": {"field": "t"}}},
          {"data": {"name": "dtxt"}, "transform": [{"filter": "datum.k === 't'"}],
           "mark": {"type": "text", "font": "Liberation Serif", "fontWeight": "bold", "fontSize": 25, "align": "center", "baseline": "middle", "color": "black"},
           "encoding": {"x": {"field": "x", "type": "quantitative", "axis": null}, "y": {"field": "y", "type": "quantitative", "axis": null}, "text": {"field": "t"}}}
        ],
        "resolve": {"axis": {"x": "independent", "y": "independent"}}
      }
],
"columns": 2,
"spacing": {"row": 140, "column": 178},
"bounds": "flush"
}
